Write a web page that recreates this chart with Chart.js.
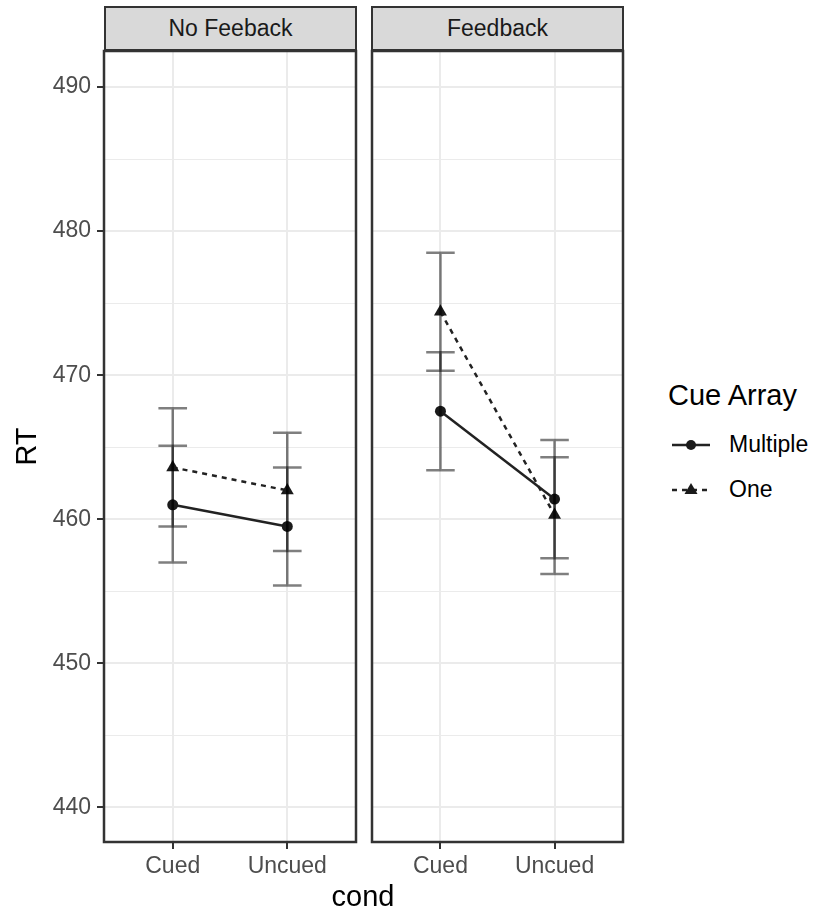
<!DOCTYPE html>
<html>
<head>
<meta charset="utf-8">
<script src="https://cdn.jsdelivr.net/npm/chart.js@4.4.1/dist/chart.umd.min.js"></script>
<style>
  body { margin: 0; background: #fff; font-family: "Liberation Sans", Arial, Helvetica, sans-serif; }
  #wrap { position: relative; width: 816px; height: 913px; overflow: hidden; }
  canvas { position: absolute; top: 0; }
  .strip { position: absolute; top: 6px; height: 45px; box-sizing: border-box; background: #D9D9D9;
           border: 2.5px solid #333; color: #1A1A1A; font-size: 23px; text-align: center; line-height: 40px; }
  .txt { position: absolute; white-space: nowrap; }
</style>
</head>
<body>
<div id="wrap">
  <canvas id="left" width="358" height="913" style="left:0"></canvas>
  <canvas id="right" width="255" height="913" style="left:370px"></canvas>
  <div class="strip" id="s1" style="left:104px;width:253px"></div>
  <div class="strip" id="s2" style="left:371px;width:253px"></div>
  <div class="txt" id="xtitle" style="left:0;width:726px;top:880px;font-size:29px;text-align:center;color:#000"></div>
  <div class="txt" id="legTitle" style="left:668px;top:379px;font-size:29px;color:#000"></div>
  <div class="txt" style="left:672px;top:434px">
    <svg width="40" height="22"><line x1="0" y1="11" x2="38" y2="11" stroke="#222" stroke-width="2.5"/><circle cx="19" cy="11" r="5" fill="#1a1a1a"/></svg>
  </div>
  <div class="txt" style="left:672px;top:479px">
    <svg width="40" height="22"><line x1="0" y1="11" x2="38" y2="11" stroke="#222" stroke-width="2.5" stroke-dasharray="5 5"/><polygon points="19,4 25.5,15 12.5,15" fill="#1a1a1a"/></svg>
  </div>
  <div class="txt" id="leg1" style="left:729px;top:431px;font-size:23px;color:#000"></div>
  <div class="txt" id="leg2" style="left:729px;top:476px;font-size:23px;color:#000"></div>
</div>
<script>
// categories / labels
const panels = ["No Feeback", "Feedback"];
const conds = ["Cued", "Uncued"];
const seriesNames = ["Multiple", "One"];
const legendTitle = "Cue Array";
const yTitle = "RT";
const xTitle = "cond";
const yMajor = [440, 450, 460, 470, 480, 490];
const yMinor = [445, 455, 465, 475, 485];

// means
const multipleNoFb = [461.0, 459.5];
const oneNoFb = [463.6, 462.0];
const multipleFb = [467.5, 461.4];
const oneFb = [474.4, 460.3];

// error bar ends
const multipleNoFbLo = [457.0, 455.4];
const multipleNoFbHi = [465.1, 463.6];
const oneNoFbLo = [459.5, 457.8];
const oneNoFbHi = [467.7, 466.0];
const multipleFbLo = [463.4, 457.3];
const multipleFbHi = [471.6, 465.5];
const oneFbLo = [470.3, 456.2];
const oneFbHi = [478.5, 464.3];

document.getElementById("s1").textContent = panels[0];
document.getElementById("s2").textContent = panels[1];
document.getElementById("xtitle").textContent = xTitle;
document.getElementById("legTitle").textContent = legendTitle;
document.getElementById("leg1").textContent = seriesNames[0];
document.getElementById("leg2").textContent = seriesNames[1];

const FONT = "'Liberation Sans', Arial, Helvetica, sans-serif";
const GRID = "#EBEBEB";
const DARK = "#333333";
const ERR_WIDTH = 0.25; // errorbar width in x units

const pts = arr => arr.map((v, i) => ({ x: i, y: v }));

// ggplot-like panel: border + error bars
const panelPlugin = {
  id: "panel",
  afterDatasetsDraw(chart) {
    const { ctx, scales: { x, y } } = chart;
    const bars = chart.options.plugins.panel.bars;
    ctx.save();
    ctx.strokeStyle = "rgba(0,0,0,0.5)";
    ctx.lineWidth = 2.5;
    bars.forEach(b => {
      b.lo.forEach((lo, i) => {
        const hi = b.hi[i];
        const xc = x.getPixelForValue(i);
        const xl = x.getPixelForValue(i - ERR_WIDTH / 2);
        const xr = x.getPixelForValue(i + ERR_WIDTH / 2);
        const yl = y.getPixelForValue(lo), yh = y.getPixelForValue(hi);
        ctx.beginPath();
        ctx.moveTo(xl, yh); ctx.lineTo(xr, yh);
        ctx.moveTo(xc, yh); ctx.lineTo(xc, yl);
        ctx.moveTo(xl, yl); ctx.lineTo(xr, yl);
        ctx.stroke();
      });
    });
    ctx.restore();
  },
  afterDraw(chart) {
    const { ctx, chartArea: a } = chart;
    ctx.save();
    ctx.strokeStyle = DARK;
    ctx.lineWidth = 2.5;
    ctx.strokeRect(a.left, a.top, a.right - a.left, a.bottom - a.top);
    ctx.restore();
  }
};

function makeChart(id, mult, one, bars, withY, pad) {
  const isMajor = c => c.tick && yMajor.includes(c.tick.value);
  return new Chart(document.getElementById(id), {
    type: "line",
    data: {
      datasets: [
        {
          label: seriesNames[0],
          data: pts(mult),
          borderColor: "#222",
          borderWidth: 2.5,
          pointStyle: "circle",
          pointRadius: 5.5,
          pointBackgroundColor: "#1a1a1a",
          pointBorderWidth: 0,
          tension: 0
        },
        {
          label: seriesNames[1],
          data: pts(one),
          borderColor: "#222",
          borderWidth: 2.5,
          borderDash: [5, 5],
          pointStyle: "triangle",
          pointRadius: 7.5,
          pointBackgroundColor: "#1a1a1a",
          pointBorderWidth: 0,
          tension: 0
        }
      ]
    },
    options: {
      responsive: false,
      animation: false,
      devicePixelRatio: 1,
      layout: { autoPadding: false, padding: { top: 51, left: pad.left, right: pad.right, bottom: 0 } },
      plugins: {
        legend: { display: false },
        tooltip: { enabled: false },
        panel: { bars }
      },
      scales: {
        x: {
          type: "linear",
          min: -0.6,
          max: 1.6,
          afterBuildTicks: s => { s.ticks = conds.map((c, i) => ({ value: i })); },
          afterFit: s => { s.height = 71; s.paddingLeft = 0; s.paddingRight = 0; },
          border: { display: false },
          grid: { color: GRID, lineWidth: 2, tickColor: DARK, tickLength: 7, tickWidth: 2 },
          ticks: {
            callback: v => conds[v],
            color: "#4D4D4D",
            font: { family: FONT, size: 23 },
            padding: 4,
            maxRotation: 0
          }
        },
        y: {
          min: 437.6,
          max: 492.5,
          afterBuildTicks: s => {
            s.ticks = yMajor.concat(yMinor).sort((a, b) => a - b).map(v => ({ value: v }));
          },
          afterFit: s => { s.width = withY ? 104 : 0; s.paddingTop = 0; s.paddingBottom = 0; },
          border: { display: false },
          grid: {
            color: GRID,
            lineWidth: c => (isMajor(c) ? 2 : 1),
            drawTicks: withY,
            tickLength: 7,
            tickWidth: 2,
            tickColor: c => (isMajor(c) ? DARK : "rgba(0,0,0,0)")
          },
          ticks: {
            display: withY,
            callback: v => (yMajor.includes(v) ? String(v) : ""),
            color: "#4D4D4D",
            font: { family: FONT, size: 23 },
            padding: 6,
            autoSkip: false
          },
          title: {
            display: withY,
            text: yTitle,
            color: "#000",
            font: { family: FONT, size: 29, lineHeight: 1 },
            padding: { top: 13.5, bottom: 0 }
          }
        }
      }
    },
    plugins: [panelPlugin]
  });
}

makeChart("left", multipleNoFb, oneNoFb, [
  { lo: multipleNoFbLo, hi: multipleNoFbHi },
  { lo: oneNoFbLo, hi: oneNoFbHi }
], true, { left: 0, right: 2 });

makeChart("right", multipleFb, oneFb, [
  { lo: multipleFbLo, hi: multipleFbHi },
  { lo: oneFbLo, hi: oneFbHi }
], false, { left: 2, right: 2 });
</script>
</body>
</html>
